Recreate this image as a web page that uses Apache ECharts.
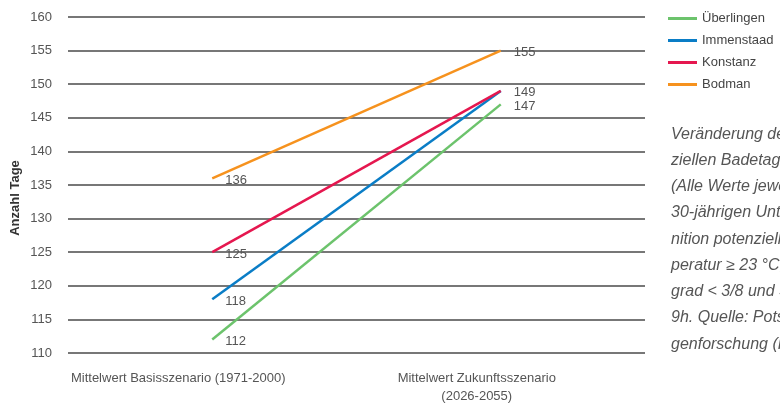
<!DOCTYPE html>
<html><head><meta charset="utf-8">
<script src="https://cdn.jsdelivr.net/npm/echarts@6/dist/echarts.min.js"></script>
<style>html,body{margin:0;padding:0;background:#fff}#c{width:780px;height:403px}</style>
</head><body><div id="c"></div>
<script>
const categories = ['Mittelwert Basisszenario (1971-2000)', 'Mittelwert Zukunftsszenario\n(2026-2055)'];
const seriesNames = ['Überlingen', 'Immenstaad', 'Konstanz', 'Bodman'];
const ueberlingen = [112, 147];
const immenstaad = [118, 149];
const konstanz = [125, 149];
const bodman = [136, 155];
const colors = ['#6cc36c', '#0a7dc6', '#e5174f', '#f6921e'];
const noteLines = ['Veränderung der Anzahl poten-', 'ziellen Badetage am Bodensee', '(Alle Werte jeweils Mittel des', '30-jährigen Untersuchungszeit-', 'nition potenzieller Badetag: Tem-', 'peratur ≥ 23 °C, Bedeckungs-', 'grad < 3/8 und Sonnenschein >', '9h. Quelle: Potsdam-Institut für', 'genforschung (PIK))'];

const data = [ueberlingen, immenstaad, konstanz, bodman];
const chart = echarts.init(document.getElementById('c'));
const font = '"Liberation Sans", Arial, sans-serif';
chart.setOption({
  animation: false,
  textStyle: { fontFamily: font },
  grid: { left: 68, right: 135, top: 17, bottom: 50, outerBoundsMode: 'none', containLabel: false },
  legend: {
    orient: 'vertical', left: 663, top: 6, itemGap: 7,
    itemWidth: 29, itemHeight: 3, icon: 'rect',
    textStyle: { fontSize: 13, color: '#444', lineHeight: 15 },
    data: seriesNames
  },
  xAxis: {
    type: 'category', data: categories, boundaryGap: true,
    axisLine: { show: false }, axisTick: { show: false },
    axisLabel: {
      interval: 0, hideOverlap: false,
      margin: 17, color: '#555', fontSize: 13, lineHeight: 17.5,
      formatter: function (v, i) { return v.split('\n').map(s => (i === 0 ? '{a|' : '{b|') + s + '}').join('\n'); },
      rich: {
        a: { fontSize: 13, color: '#555', padding: [0, 68, 0, 0], lineHeight: 17.5 },
        b: { fontSize: 13, color: '#555', padding: [0, 48, 0, 0], lineHeight: 17.5 }
      }
    }
  },
  yAxis: {
    type: 'value', min: 110, max: 160, interval: 5,
    axisLine: { show: false }, axisTick: { show: false },
    axisLabel: { margin: 16, color: '#555', fontSize: 13 },
    splitLine: { lineStyle: { color: '#4a4a4a', width: 1.5 } }
  },
  series: data.map((d, i) => ({
    name: seriesNames[i], type: 'line',
    // Immenstaad's end value coincides with Konstanz's; only one label is printed there
    data: d.map((v, j) => (i === 1 && j === 1) ? { value: v, label: { show: false } } : v),
    symbol: 'circle', symbolSize: 0, showSymbol: true,
    lineStyle: { width: 2.5, color: colors[i] },
    itemStyle: { color: colors[i] },
    label: { show: true, position: 'right', distance: 13, color: '#555', fontSize: 13, offset: [0, 2] }
  })),
  graphic: [
    { type: 'text', x: 15, y: 198, rotation: Math.PI / 2,
      style: { text: 'Anzahl Tage', font: 'bold 13px ' + font, fill: '#333', align: 'center', verticalAlign: 'middle' } },
    { type: 'text', left: 671, top: 121,
      style: { text: noteLines.join('\n'), font: 'italic 16px ' + font, fill: '#555', lineHeight: 26.25 } }
  ]
});
</script></body></html>
